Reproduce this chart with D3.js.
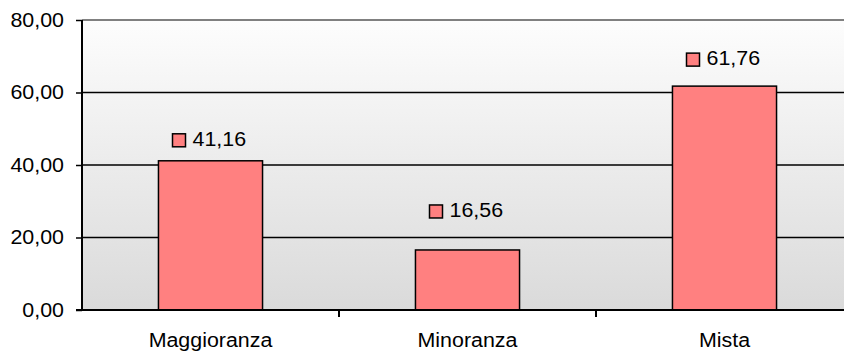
<!DOCTYPE html>
<html>
<head>
<meta charset="utf-8">
<script src="https://cdn.jsdelivr.net/npm/d3@7"></script>
<style>
  html, body { margin: 0; padding: 0; background: #fff; }
  svg { display: block; }
  text { font-family: Arial, "Liberation Sans", sans-serif; fill: #000; }
</style>
</head>
<body>
<svg id="chart" width="844" height="354"></svg>
<script>
// Chart data
const categories = ["Maggioranza", "Minoranza", "Mista"];
const values = [41.16, 16.56, 61.76];
const yTicks = [0, 20, 40, 60, 80];

// Label placement above each bar (px between bar top and label baseline)
const labelLift = [15, 33, 21];

const W = 844, H = 354;
const plot = { left: 82, right: 853, top: 20, bottom: 310 };
const barColor = "#FF8080";
const fontSize = 20;
const widen = 1.07;   // slightly wider glyphs
const fmt = v => d3.format(".2f")(v).replace(".", ",");

const svg = d3.select("#chart");

const x = d3.scaleBand()
  .domain(categories)
  .range([plot.left, plot.right])
  .paddingInner(0.595)
  .paddingOuter(0.2975);

const y = d3.scaleLinear().domain([0, 80]).range([plot.bottom, plot.top]);

// Plot-area background gradient
const defs = svg.append("defs");
const grad = defs.append("linearGradient")
  .attr("id", "bg").attr("x1", 0).attr("y1", 0).attr("x2", 0).attr("y2", 1);
grad.append("stop").attr("offset", "0%").attr("stop-color", "#fdfdfd");
grad.append("stop").attr("offset", "100%").attr("stop-color", "#dadada");

svg.append("rect")
  .attr("x", plot.left).attr("y", plot.top)
  .attr("width", plot.right - plot.left).attr("height", plot.bottom - plot.top)
  .attr("fill", "url(#bg)");

// Horizontal gridlines
svg.append("g").selectAll("line")
  .data(yTicks.filter(t => t > 0))
  .join("line")
  .attr("x1", plot.left).attr("x2", plot.right)
  .attr("y1", d => y(d)).attr("y2", d => y(d))
  .attr("stroke", d => d === 80 ? "#808080" : "#000")
  .attr("stroke-width", d => d === 80 ? 2 : 1.3);

// Bars
svg.append("g").selectAll("rect")
  .data(values)
  .join("rect")
  .attr("x", (d, i) => x(categories[i]))
  .attr("y", d => y(d))
  .attr("width", x.bandwidth())
  .attr("height", d => y(0) - y(d))
  .attr("fill", barColor)
  .attr("stroke", "#000")
  .attr("stroke-width", 1.5);

// Y axis
const yAxis = d3.axisLeft(y)
  .tickValues(yTicks)
  .tickSize(6)
  .tickPadding(12)
  .tickFormat(fmt);
const gy = svg.append("g")
  .attr("transform", `translate(${plot.left},0)`)
  .call(yAxis);
gy.select(".domain").attr("stroke", "#000").attr("stroke-width", 2)
  .attr("d", `M0,${plot.top}V${plot.bottom}`);
gy.selectAll(".tick line").attr("stroke", "#000").attr("stroke-width", 1.5);
gy.selectAll(".tick text")
  .attr("font-size", fontSize).attr("font-family", "Arial, 'Liberation Sans', sans-serif")
  .attr("fill", "#000");

// X axis: category labels centred, tick marks between categories
const step = x.step();
const boundaries = categories.slice(1).map(c => x(c) - x.paddingInner() * step / 2);
const gx = svg.append("g");
gx.append("line")
  .attr("x1", plot.left - 6).attr("x2", plot.right)
  .attr("y1", plot.bottom).attr("y2", plot.bottom)
  .attr("stroke", "#000").attr("stroke-width", 2);
gx.selectAll("line.tick")
  .data(boundaries)
  .join("line")
  .attr("class", "tick")
  .attr("x1", d => d).attr("x2", d => d)
  .attr("y1", plot.bottom).attr("y2", plot.bottom + 7)
  .attr("stroke", "#000").attr("stroke-width", 2);
gx.selectAll("text")
  .data(categories)
  .join("text")
  .attr("x", d => x(d) + x.bandwidth() / 2)
  .attr("y", 347)
  .attr("text-anchor", "middle")
  .attr("font-size", fontSize)
  .text(d => d);

// Value labels with legend key
const labels = svg.append("g").selectAll("g")
  .data(values)
  .join("g")
  .attr("transform", (d, i) =>
    `translate(${x(categories[i]) + x.bandwidth() / 2},${y(d) - labelLift[i]})`);
labels.append("rect")
  .attr("x", -38).attr("y", -12)
  .attr("width", 13).attr("height", 13)
  .attr("fill", barColor).attr("stroke", "#000").attr("stroke-width", 1.5);
labels.append("text")
  .attr("x", -18).attr("y", 0)
  .attr("font-size", fontSize)
  .text(d => fmt(d));

// Widen all text glyphs a little
svg.selectAll("text").each(function () {
  const len = this.getComputedTextLength();
  d3.select(this)
    .attr("textLength", len * widen)
    .attr("lengthAdjust", "spacingAndGlyphs");
});
</script>
</body>
</html>
